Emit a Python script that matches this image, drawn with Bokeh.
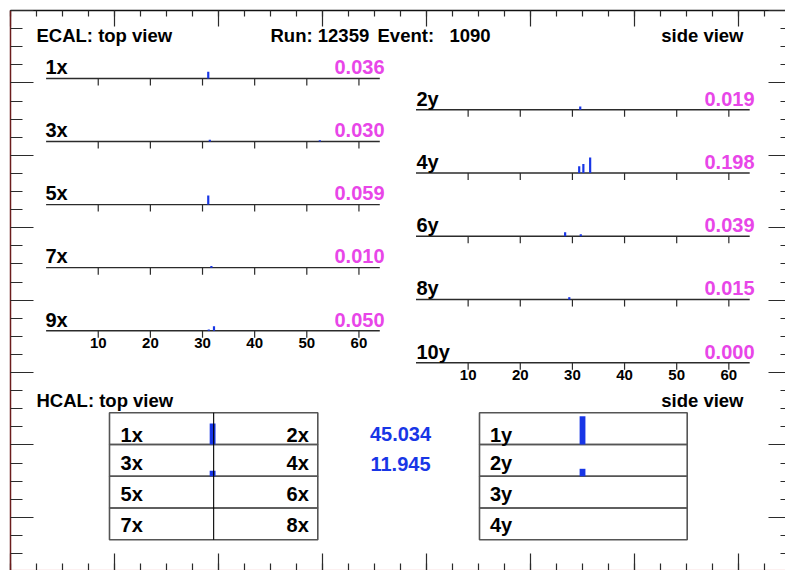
from bokeh.plotting import figure
from bokeh.models import Range1d, LinearAxis, FixedTicker
from bokeh.embed import file_html
from bokeh.resources import INLINE
from bokeh.core.properties import value

# ---------------- data ----------------
run_number = 12359
event_number = 1090

ecal_top_layers = ["1x", "3x", "5x", "7x", "9x"]
ecal_top_totals = [0.036, 0.030, 0.059, 0.010, 0.050]
ecal_side_layers = ["2y", "4y", "6y", "8y", "10y"]
ecal_side_totals = [0.019, 0.198, 0.039, 0.015, 0.000]

# individual ECAL hits (layer, strip channel, energy)
hit_layer = ["1x", "3x", "3x", "5x", "7x", "9x", "9x",
             "2y", "4y", "4y", "4y", "6y", "6y", "8y"]
hit_channel = [31.1, 31.4, 52.5, 31.1, 31.7, 31.2, 32.2,
               31.5, 31.3, 32.1, 33.4, 28.6, 31.6, 29.4]
hit_energy = [0.040, 0.010, 0.007, 0.054, 0.010, 0.007, 0.026,
              0.019, 0.040, 0.053, 0.092, 0.024, 0.012, 0.014]

strip_ticks = [10, 20, 30, 40, 50, 60]
strip_channels = [0, 64]

hcal_top_left = ["1x", "3x", "5x", "7x"]
hcal_top_right = ["2x", "4x", "6x", "8x"]
hcal_side_labels = ["1y", "2y", "3y", "4y"]
hcal_top_energy = [45.034, 11.945, 0.0, 0.0]
hcal_top_pos = [0.99, 0.99, 0.99, 0.99]
hcal_side_energy = [45.034, 11.945, 0.0, 0.0]
hcal_side_pos = [0.992, 0.992, 0.992, 0.992]

# ---------------- layout / style ----------------
FX0, FX1 = 10, 785      # canvas x of frame
FY0, FY1 = 10, 570      # canvas y of frame
FONT = value("Liberation Sans")
BLUE = "#1836e6"
MAGENTA = "#e846e8"
DARK = "#2b2b2b"

p = figure(width=785, height=570, output_backend="svg", toolbar_location=None,
           x_range=Range1d(FX0, FX1), y_range=Range1d(FY1, FY0),
           x_axis_location=None, y_axis_location=None,
           min_border_left=FX0, min_border_top=FY0, min_border_right=0, min_border_bottom=0)
p.xgrid.grid_line_color = None
p.ygrid.grid_line_color = None
p.outline_line_color = None
p.background_fill_color = "white"
p.border_fill_color = "white"

# frame axes (unlabelled tick marks)
hmaj = [FX0 + 104 * k for k in range(8) if FX0 + 104 * k <= FX1]
hmin = [FX0 + 26 * k for k in range(31) if FX0 + 26 * k <= FX1]
vmaj = [FY0 + 72.4 * k for k in range(8) if FY0 + 72.4 * k <= FY1]
vmin = [FY0 + 18.1 * k for k in range(32) if FY0 + 18.1 * k <= FY1]


def frame_axis(side, major, minor, min_in, maj_in, line_color):
    ax = LinearAxis(ticker=FixedTicker(ticks=major, minor_ticks=minor))
    ax.major_label_text_font_size = "0px"
    ax.major_label_text_color = None
    ax.major_label_standoff = 0
    ax.major_tick_out = 0
    ax.minor_tick_out = 0
    ax.major_tick_in = maj_in
    ax.minor_tick_in = min_in
    ax.major_tick_line_color = DARK
    ax.minor_tick_line_color = DARK
    ax.major_tick_line_width = 1.2
    ax.minor_tick_line_width = 1.2
    ax.axis_line_color = line_color
    ax.axis_line_width = 1.5
    p.add_layout(ax, side)


frame_axis("above", hmaj, hmin, 6, 16, "#111111")
frame_axis("left", vmaj, vmin, 12, 23, "#6b1c1c")
frame_axis("right", vmaj, vmin, 5, 17, None)
frame_axis("below", hmaj, hmin, 7, 17, "#f2c4c4")


def txt(x, base, s, size, color="black", align="left", xr="default"):
    """Draw bold text whose alphabetic baseline sits at canvas y = base."""
    mid = [b - 0.36 * size for b in base]
    p.text(x=x, y=mid, text=s, text_font=FONT, text_font_style="bold",
           text_font_size=f"{size}px", text_color=color, text_align=align,
           text_baseline="middle", x_range_name=xr)


# headers
txt([36], [42], ["ECAL: top view"], 18.5)
txt([270], [42], [f"Run: {run_number}"], 18.5)
txt([377], [42], ["Event:"], 18.5)
txt([449], [42], [f"{event_number}"], 18.5)
txt([743], [42], ["side view"], 18.5, align="right")
txt([36], [407], ["HCAL: top view"], 18.5)
txt([743], [407], ["side view"], 18.5, align="right")

# ---------------- ECAL strips ----------------
ES = 170.0   # px per energy unit
PXC = 5.214  # px per channel

ecal_panels = [
    ("ecal_top", ecal_top_layers, ecal_top_totals, 45.6, 78.0, 63.05, 45, 384),
    ("ecal_side", ecal_side_layers, ecal_side_totals, 415.5, 109.3, 63.25, 416, 754),
]
for name, layers, totals, x0px, b0, db, lab_x, val_x in ecal_panels:
    p.extra_x_ranges[name] = Range1d((FX0 - x0px) / PXC, (FX1 - x0px) / PXC)
    for i, (layer, tot) in enumerate(zip(layers, totals)):
        B = b0 + db * i
        yr = "e_" + layer
        p.extra_y_ranges[yr] = Range1d((B - FY1) / ES, (B - FY0) / ES)
        p.line(x=strip_channels, y=[0, 0], line_color=DARK, line_width=1.4,
               x_range_name=name, y_range_name=yr)
        p.segment(x0=strip_ticks, x1=strip_ticks, y0=[B] * 6, y1=[B + 7] * 6,
                  line_color=DARK, line_width=1.2, x_range_name=name)
        ch = [c for l, c in zip(hit_layer, hit_channel) if l == layer]
        en = [e for l, e in zip(hit_layer, hit_energy) if l == layer]
        if ch:
            p.vbar(x=ch, top=en, bottom=0, width=0.42, fill_color=BLUE,
                   line_color=None, x_range_name=name, y_range_name=yr)
        txt([lab_x], [B - 4], [layer], 20)
        txt([val_x], [B - 4], [f"{tot:.3f}"], 20, color=MAGENTA, align="right")
        if i == len(layers) - 1:
            txt(strip_ticks, [B + 17.5] * 6, [str(t) for t in strip_ticks], 15,
                align="center", xr=name)

# ---------------- HCAL tables ----------------
ROW0, ROWH = 412.3, 31.75
p.extra_y_ranges["rows"] = Range1d((FY1 - ROW0) / ROWH, (FY0 - ROW0) / ROWH)
rows = [0, 1, 2, 3]
label_base = [ROW0 + ROWH * f for f in (0.94, 1.80, 2.78, 3.76)]

hcal_panels = [
    ("hcal_top", 109.0, 317.3, hcal_top_energy, hcal_top_pos, 0.466),
    ("hcal_side", 479.0, 686.7, hcal_side_energy, hcal_side_pos, 0.628),
]
for name, xl, xr_, energy, pos, scale in hcal_panels:
    s = (xr_ - xl) / 2.0
    p.extra_x_ranges[name] = Range1d((FX0 - xl) / s, (FX1 - xl) / s)
    p.quad(left=[0] * 4, right=[2] * 4, top=rows, bottom=[r + 1 for r in rows],
           fill_color=None, line_color="#555555", line_width=1.6,
           x_range_name=name, y_range_name="rows")
    for r in rows:
        if energy[r] > 0:
            B = ROW0 + ROWH * (r + 1)
            yr = f"{name}_r{r}"
            p.extra_y_ranges[yr] = Range1d((B - FY1) / scale, (B - FY0) / scale)
            p.vbar(x=[pos[r]], top=[energy[r]], bottom=0, width=0.056,
                   fill_color=BLUE, line_color=None, x_range_name=name, y_range_name=yr)

p.segment(x0=[1], x1=[1], y0=[0], y1=[4], line_color="black", line_width=1.1,
          x_range_name="hcal_top", y_range_name="rows")
txt([0.106] * 4, label_base, hcal_top_left, 20, xr="hcal_top")
txt([1.914] * 4, label_base, hcal_top_right, 20, align="right", xr="hcal_top")
txt([0.10] * 4, label_base, hcal_side_labels, 20, xr="hcal_side")

sums = [e for e in hcal_top_energy if e > 0]
txt([400] * len(sums), [441.0, 470.7][:len(sums)], [f"{e:.3f}" for e in sums],
    20, color=BLUE, align="center")

open("out.html", "w").write(file_html(p, INLINE))
